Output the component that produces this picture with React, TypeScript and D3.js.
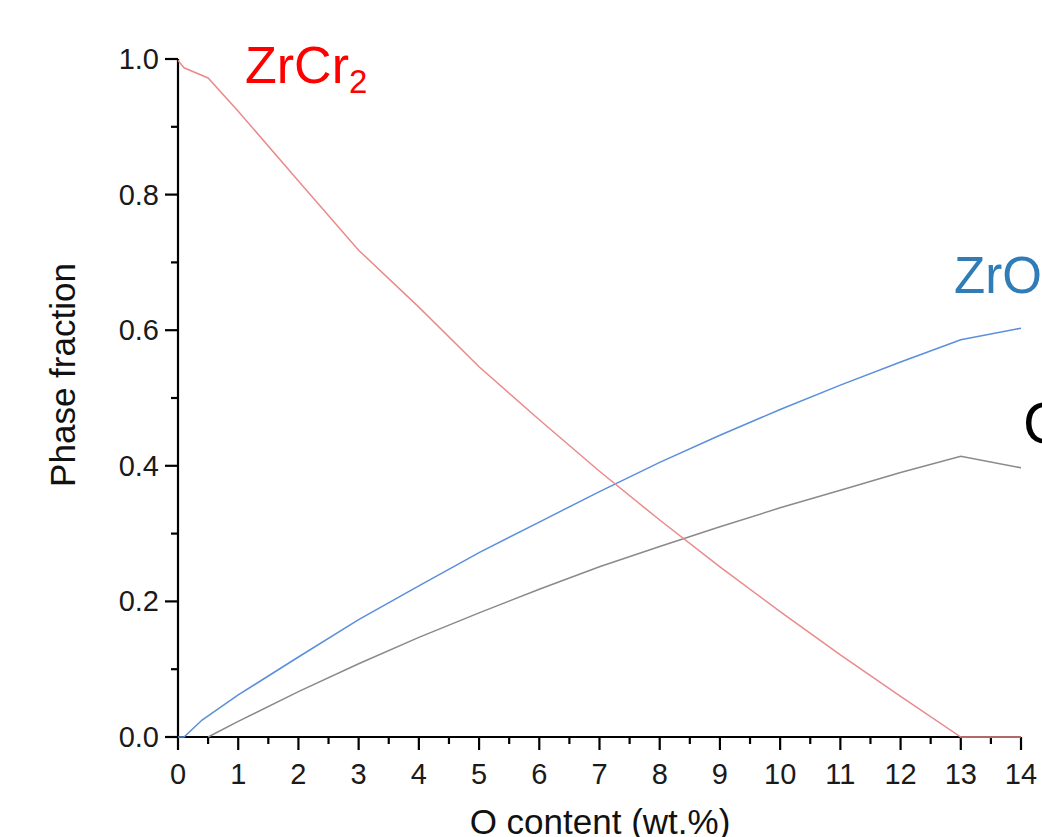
import React, { useEffect } from "react";
import * as d3 from "d3";

const xTicks = [0, 1, 2, 3, 4, 5, 6, 7, 8, 9, 10, 11, 12, 13, 14];
const yTicks = [0, 0.2, 0.4, 0.6, 0.8, 1.0];

const zrcr2X = [0, 0.1, 0.5, 1, 2, 3, 4, 5, 6, 7, 8, 9, 10, 11, 12, 13, 14];
const zrcr2Y = [0.998, 0.987, 0.972, 0.923, 0.82, 0.718, 0.634, 0.546, 0.468, 0.392, 0.32, 0.251, 0.185, 0.121, 0.06, 0, 0];

const zro2X = [0, 0.1, 0.4, 1, 2, 3, 4, 5, 6, 7, 8, 9, 10, 11, 12, 13, 14];
const zro2Y = [0, 0, 0.025, 0.062, 0.118, 0.173, 0.223, 0.272, 0.317, 0.362, 0.405, 0.445, 0.483, 0.519, 0.553, 0.586, 0.603];

const oxX = [0.5, 1, 2, 3, 4, 5, 6, 7, 8, 9, 10, 11, 12, 13, 14];
const oxY = [0, 0.023, 0.067, 0.108, 0.147, 0.183, 0.218, 0.251, 0.281, 0.31, 0.338, 0.364, 0.39, 0.414, 0.397];

const W = 1042;
const H = 837;
const X0 = 178, X1 = 1021, Y0 = 737, Y1 = 59;
const FONT = "'Liberation Sans', Arial, sans-serif";

export default function App() {
  useEffect(() => {
    document.body.style.margin = "0";
    document.body.style.overflow = "hidden";
  }, []);
  const x = d3.scaleLinear().domain([0, 14]).range([X0, X1]);
  const y = d3.scaleLinear().domain([0, 1]).range([Y0, Y1]);
  const line = d3.line<[number, number]>().x(d => x(d[0])).y(d => y(d[1]));
  const zip = (a: number[], b: number[]) => a.map((v, i) => [v, b[i]] as [number, number]);
  const xMinor = d3.range(0.5, 14, 1);
  const yMinor = [0.1, 0.3, 0.5, 0.7, 0.9];

  return (
    <svg width={W} height={H} style={{ display: "block", background: "#fff" }} fontFamily={FONT}>
      <rect x={0} y={0} width={W} height={H} fill="#fff" />
      {/* axes */}
      <line x1={X0} x2={X1} y1={Y0} y2={Y0} stroke="#000" strokeWidth={2.2} />
      <line x1={X0} x2={X0} y1={Y0 + 1} y2={Y1} stroke="#000" strokeWidth={2.2} />
      {xTicks.map(t => (
        <g key={"xt" + t}>
          <line x1={x(t)} x2={x(t)} y1={Y0} y2={Y0 + 13} stroke="#000" strokeWidth={2.2} />
          <text x={x(t)} y={Y0 + 47} fontSize={29} textAnchor="middle" fill="#1a1a1a">{t}</text>
        </g>
      ))}
      {xMinor.map(t => (
        <line key={"xm" + t} x1={x(t)} x2={x(t)} y1={Y0} y2={Y0 + 7} stroke="#000" strokeWidth={2.2} />
      ))}
      {yTicks.map(t => (
        <g key={"yt" + t}>
          <line x1={X0 - 13} x2={X0} y1={y(t)} y2={y(t)} stroke="#000" strokeWidth={2.2} />
          <text x={X0 - 19} y={y(t) + 10} fontSize={29} textAnchor="end" fill="#1a1a1a">{t.toFixed(1)}</text>
        </g>
      ))}
      {yMinor.map(t => (
        <line key={"ym" + t} x1={X0 - 7} x2={X0} y1={y(t)} y2={y(t)} stroke="#000" strokeWidth={2.2} />
      ))}
      {/* axis titles */}
      <text x={600} y={834} fontSize={35} textAnchor="middle" fill="#111">O content (wt.%)</text>
      <text transform={`translate(75,375) rotate(-90)`} fontSize={35} textAnchor="middle" fill="#111">Phase fraction</text>
      {/* lines */}
      <path d={line(zip(oxX, oxY)) || ""} fill="none" stroke="#8a8a8a" strokeWidth={1.5} />
      <path d={line(zip(zro2X, zro2Y)) || ""} fill="none" stroke="#5b8fdc" strokeWidth={1.5} />
      <path d={line(zip(zrcr2X, zrcr2Y)) || ""} fill="none" stroke="#eb8a8a" strokeWidth={1.5} />
      {/* labels */}
      <text x={245} y={83} fontSize={52} fill="#ff0000">ZrCr<tspan fontSize={33} dy={10}>2</tspan></text>
      <text x={954} y={293} fontSize={51} fill="#2f7cb6">ZrO<tspan fontSize={33} dy={10}>2</tspan></text>
      <text x={1023} y={443} fontSize={58} fill="#000">Cr<tspan fontSize={38} dy={12}>2</tspan><tspan dy={-12}>O</tspan><tspan fontSize={38} dy={12}>3</tspan></text>
    </svg>
  );
}
